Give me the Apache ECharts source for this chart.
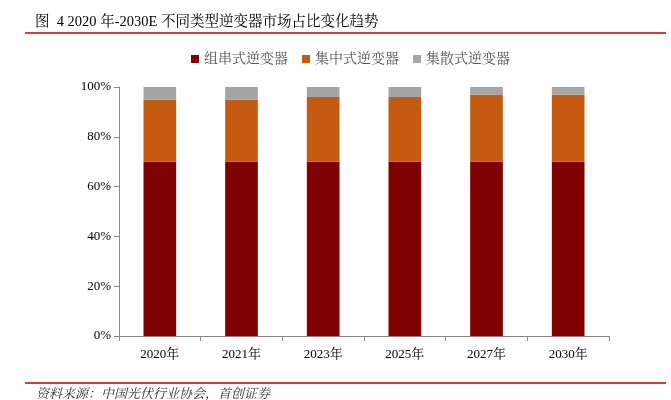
<!DOCTYPE html>
<html><head><meta charset="utf-8">
<script src="https://cdn.jsdelivr.net/npm/echarts@6/dist/echarts.min.js"></script>
<style>html,body{margin:0;padding:0;background:#fff}#c{width:671px;height:400px}</style>
</head><body><div id="c"></div>
<script>
const categories = ['2020年','2021年','2023年','2025年','2027年','2030年'];
const stringInv = [70,70,70,70,70,70];
const centralInv = [25,25,26,26,27,27];
const distInv = [5,5,4,4,3,3];
const seriesNames = ['组串式逆变器','集中式逆变器','集散式逆变器'];
const yTicks = [0,20,40,60,80,100];

const chart = echarts.init(document.getElementById('c'));
const serif = '"Liberation Serif","Noto Serif CJK SC","Noto Sans CJK SC",serif';
chart.setOption({
  animation:false,
  color:['#7F0000','#C55A11','#A5A5A5'],
  graphic:[
    {type:'text',left:35,top:15,style:{text:'图  4 2020 年-2030E 不同类型逆变器市场占比变化趋势',font:'14.5px '+serif,fill:'#000'}},
    {type:'line',shape:{x1:25,y1:33,x2:666,y2:33},style:{stroke:'#C00000',lineWidth:1.5}},
    {type:'line',shape:{x1:25,y1:383,x2:666,y2:383},style:{stroke:'#C00000',lineWidth:1.5}},
    {type:'text',left:36,top:388,style:{text:'资料来源：中国光伏行业协会，首创证券',font:'italic 13px '+serif,fill:'#333'}}
  ],
  legend:{top:47,left:186,itemWidth:8,itemHeight:8,itemGap:14,icon:'rect',
    textStyle:{fontFamily:serif,fontSize:14,color:'#555'},data:seriesNames},
  grid:{left:119,right:62,top:87,bottom:64},
  xAxis:{type:'category',data:categories,
    axisLine:{lineStyle:{color:'#888'}},
    axisTick:{show:true,alignWithLabel:false,length:5,lineStyle:{color:'#888'}},
    axisLabel:{fontFamily:serif,fontSize:13,color:'#000',margin:12}},
  yAxis:{type:'value',min:0,max:100,interval:20,
    axisLine:{show:true,lineStyle:{color:'#888'}},
    axisTick:{show:true,length:5,lineStyle:{color:'#888'}},
    splitLine:{show:false},
    axisLabel:{fontFamily:serif,fontSize:13,color:'#000',margin:8,
      formatter:v=>yTicks.includes(v)?v+'%':''}},
  series:[
    {name:seriesNames[0],type:'bar',stack:'s',data:stringInv,barWidth:'40%'},
    {name:seriesNames[1],type:'bar',stack:'s',data:centralInv},
    {name:seriesNames[2],type:'bar',stack:'s',data:distInv}
  ]
});
</script></body></html>
